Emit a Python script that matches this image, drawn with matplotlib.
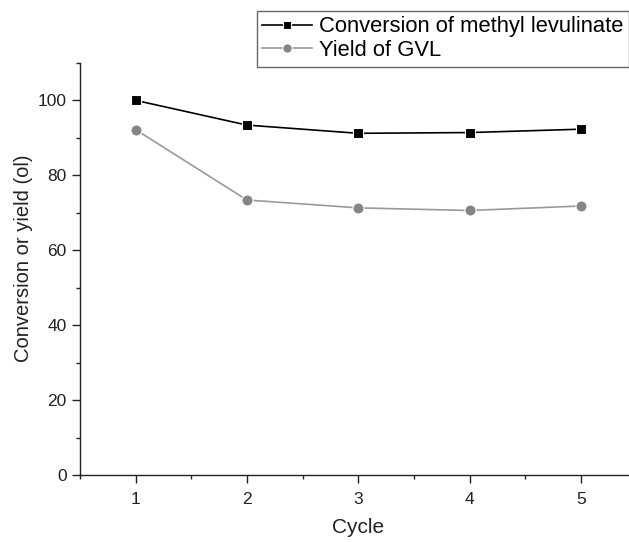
import matplotlib
matplotlib.use("Agg")
import matplotlib.pyplot as plt
from matplotlib.ticker import MultipleLocator

cycles = [1, 2, 3, 4, 5]
conversion = [100.0, 93.4, 91.2, 91.4, 92.3]
yield_gvl = [92.2, 73.4, 71.3, 70.6, 71.8]

plt.rcParams['font.family'] = ['Liberation Sans', 'DejaVu Sans']

fig = plt.figure(figsize=(6.29, 5.42), dpi=100)
ax = fig.add_axes([0.127, 0.1236, 0.885, 0.7604])

l1, = ax.plot(cycles, conversion, color='black', lw=1.2, marker='s', ms=7,
              mfc='black', mec='white', mew=0.8, label='Conversion of methyl levulinate')
l2, = ax.plot(cycles, yield_gvl, color='#999999', lw=1.2, marker='o', ms=8,
              mfc='#858585', mec='white', mew=0.8, label='Yield of GVL')

ax.set_xlim(0.5, 5.5)
ax.set_ylim(0, 110)
ax.xaxis.set_major_locator(MultipleLocator(1))
ax.xaxis.set_minor_locator(MultipleLocator(0.5))
ax.yaxis.set_minor_locator(MultipleLocator(10))
ax.set_yticks([0, 20, 40, 60, 80, 100])
ax.spines['top'].set_visible(False)
ax.spines['right'].set_visible(False)
for s in ('left', 'bottom'):
    ax.spines[s].set_linewidth(1.0)
    ax.spines[s].set_color('#222222')
ax.tick_params(axis='both', which='major', direction='out', length=6, width=1.0,
               labelsize=12.5, colors='#222222')
ax.tick_params(axis='x', which='major', pad=6)
ax.tick_params(axis='both', which='minor', direction='out', length=3, width=1.0,
               colors='#222222')
ax.set_xlabel('Cycle', fontsize=15, labelpad=8, color='#222222')
ax.set_ylabel('Conversion or yield (ol)', fontsize=14.5, color='#222222')
ax.yaxis.set_label_coords(-0.085, 0.525)

leg = fig.legend(handles=[l1, l2], loc='upper left',
                 bbox_to_anchor=(257 / 629, 1 - 11 / 542),
                 fontsize=15.8, frameon=True, fancybox=False, framealpha=1,
                 edgecolor='#666666', handlelength=2.25, handletextpad=0.33,
                 borderpad=0.25, labelspacing=0.12, borderaxespad=0,
                 markerscale=0.85)
leg.get_frame().set_linewidth(1.0)

fig.savefig('out.png', dpi=100)
